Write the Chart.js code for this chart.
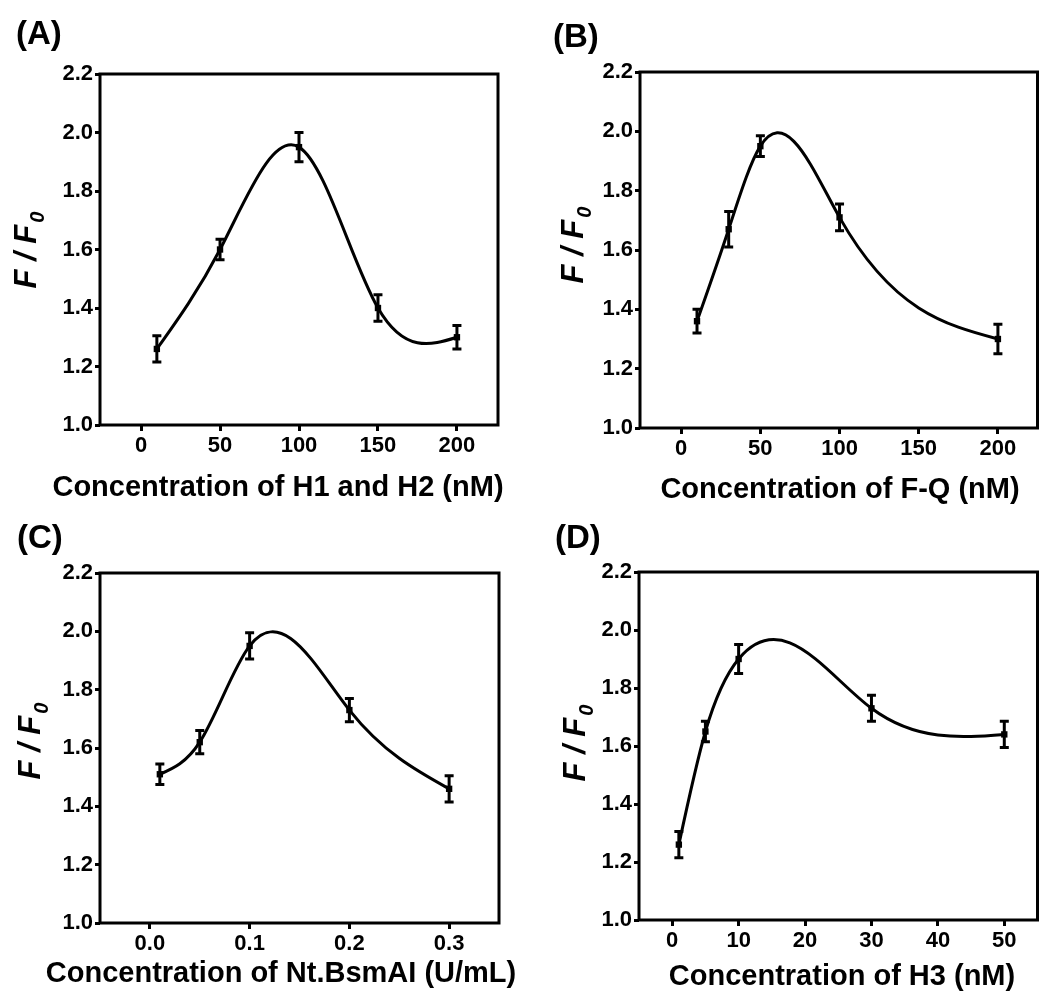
<!DOCTYPE html>
<html><head><meta charset="utf-8">
<script src="https://cdn.jsdelivr.net/npm/chart.js@4.4.0/dist/chart.umd.min.js"></script>
<style>
html,body{margin:0;padding:0;background:#fff;}
body{width:1042px;height:998px;position:relative;overflow:hidden;}
.panel{position:absolute;}
canvas{display:block;}
</style></head><body>
<div class="panel" style="left:0;top:0;"><canvas id="cA" width="520" height="505"></canvas></div>
<div class="panel" style="left:520px;top:0;"><canvas id="cB" width="522" height="505"></canvas></div>
<div class="panel" style="left:0;top:505px;"><canvas id="cC" width="520" height="493"></canvas></div>
<div class="panel" style="left:520px;top:505px;"><canvas id="cD" width="522" height="493"></canvas></div>
<script>
const FONT = "'Liberation Sans', Arial, Helvetica, sans-serif";

// ---- data ----
const xA = [10, 50, 100, 150, 200];
const yA = [1.26, 1.60, 1.95, 1.40, 1.30];
const eA = [0.045, 0.035, 0.05, 0.045, 0.04];

const xB = [10, 30, 50, 100, 200];
const yB = [1.36, 1.67, 1.95, 1.71, 1.30];
const eB = [0.04, 0.06, 0.035, 0.045, 0.05];

const xC = [0.01, 0.05, 0.1, 0.2, 0.3];
const yC = [1.51, 1.62, 1.95, 1.73, 1.46];
const eC = [0.035, 0.04, 0.045, 0.04, 0.045];

const xD = [1, 5, 10, 30, 50];
const yD = [1.26, 1.65, 1.90, 1.73, 1.64];
const eD = [0.045, 0.035, 0.05, 0.045, 0.045];

// ---- tick labels ----
const yTicks = [1.0, 1.2, 1.4, 1.6, 1.8, 2.0, 2.2];
const xTicksA = [0, 50, 100, 150, 200];
const xTicksB = [0, 50, 100, 150, 200];
const xTicksC = [0.0, 0.1, 0.2, 0.3];
const xTicksD = [0, 10, 20, 30, 40, 50];

// ---- texts ----
const panelLabels = ['(A)', '(B)', '(C)', '(D)'];
const xTitles = ['Concentration of H1 and H2 (nM)', 'Concentration of F-Q (nM)',
                 'Concentration of Nt.BsmAI (U/mL)', 'Concentration of H3 (nM)'];
const yTitleMain = 'F / F';
const yTitleSub = '0';

// natural cubic spline control points (Origin-style spline connection)
const naturalSpline = {
  id: 'naturalSpline',
  beforeDatasetDraw(chart, args) {
    const meta = args.meta;
    const line = meta.dataset;
    if (!line) return;
    line.updateControlPoints(chart.chartArea, meta.iScale.axis);
    const pts = meta.data;
    const n = pts.length;
    if (n < 3) return;
    const X = pts.map(p => p.x), Y = pts.map(p => p.y);
    const h = [];
    for (let i = 0; i < n - 1; i++) h.push(X[i + 1] - X[i]);
    const a = new Array(n).fill(0), b = new Array(n).fill(0), c = new Array(n).fill(0), d = new Array(n).fill(0);
    b[0] = 1; b[n - 1] = 1;
    for (let i = 1; i < n - 1; i++) {
      a[i] = h[i - 1]; b[i] = 2 * (h[i - 1] + h[i]); c[i] = h[i];
      d[i] = 6 * ((Y[i + 1] - Y[i]) / h[i] - (Y[i] - Y[i - 1]) / h[i - 1]);
    }
    const cp = new Array(n).fill(0), dp = new Array(n).fill(0);
    cp[0] = c[0] / b[0]; dp[0] = d[0] / b[0];
    for (let i = 1; i < n; i++) {
      const m = b[i] - a[i] * cp[i - 1];
      cp[i] = c[i] / m; dp[i] = (d[i] - a[i] * dp[i - 1]) / m;
    }
    const M = new Array(n).fill(0);
    M[n - 1] = dp[n - 1];
    for (let i = n - 2; i >= 0; i--) M[i] = dp[i] - cp[i] * M[i + 1];
    const s = [];
    for (let i = 0; i < n - 1; i++) s.push((Y[i + 1] - Y[i]) / h[i] - h[i] * (2 * M[i] + M[i + 1]) / 6);
    s.push((Y[n - 1] - Y[n - 2]) / h[n - 2] + h[n - 2] * (M[n - 2] + 2 * M[n - 1]) / 6);
    for (let i = 0; i < n; i++) {
      const p = pts[i];
      if (i < n - 1) { p.cp2x = X[i] + h[i] / 3; p.cp2y = Y[i] + s[i] * h[i] / 3; }
      if (i > 0) { p.cp1x = X[i] - h[i - 1] / 3; p.cp1y = Y[i] - s[i] * h[i - 1] / 3; }
    }
  }
};

const errorBars = {
  id: 'errorBars',
  afterDatasetsDraw(chart) {
    const ds = chart.data.datasets[0];
    const errs = ds.errors;
    const xs = chart.scales.x, ys = chart.scales.y;
    const ctx = chart.ctx;
    ctx.save();
    ctx.strokeStyle = '#000'; ctx.lineWidth = 3; ctx.lineCap = 'butt';
    ds.data.forEach((pt, i) => {
      const px = xs.getPixelForValue(pt.x);
      const t = ys.getPixelForValue(pt.y + errs[i]);
      const bt = ys.getPixelForValue(pt.y - errs[i]);
      ctx.beginPath();
      ctx.moveTo(px, t); ctx.lineTo(px, bt);
      ctx.moveTo(px - 4.5, t); ctx.lineTo(px + 4.5, t);
      ctx.moveTo(px - 4.5, bt); ctx.lineTo(px + 4.5, bt);
      ctx.stroke();
    });
    ctx.restore();
  }
};

const frameText = {
  id: 'frameText',
  afterDatasetsDraw(chart) {
    const a = chart.chartArea, ctx = chart.ctx;
    ctx.save();
    ctx.strokeStyle = '#000'; ctx.lineWidth = 3;
    ctx.strokeRect(a.left, a.top, a.right - a.left, a.bottom - a.top);
    ctx.restore();
  },
  afterDraw(chart, args, o) {
    const ctx = chart.ctx;
    ctx.save();
    ctx.fillStyle = '#000';
    ctx.textBaseline = 'alphabetic';
    // panel label
    ctx.textAlign = 'left';
    ctx.font = `bold 33px ${FONT}`;
    ctx.fillText(o.label, o.labelX, o.labelY);
    // x title
    ctx.textAlign = 'center';
    ctx.font = `bold 29px ${FONT}`;
    ctx.fillText(o.xTitle, o.xTitleX, o.xTitleY);
    // y title
    ctx.translate(o.yTitleX, o.yTitleCY);
    ctx.rotate(-Math.PI / 2);
    ctx.textAlign = 'left';
    ctx.font = `italic bold 31px ${FONT}`;
    const wMain = ctx.measureText(yTitleMain).width;
    ctx.font = `italic bold 20px ${FONT}`;
    const wSub = ctx.measureText(yTitleSub).width;
    const total = wMain + 2 + wSub;
    ctx.font = `italic bold 31px ${FONT}`;
    ctx.fillText(yTitleMain, -total / 2, 0);
    ctx.font = `italic bold 20px ${FONT}`;
    ctx.fillText(yTitleSub, -total / 2 + wMain + 2, 8);
    ctx.restore();
  }
};

function makeChart(id, W, H, area, xs, ys, es, xMin, xMax, xTicks, xDec, texts) {
  new Chart(document.getElementById(id), {
    type: 'line',
    data: {
      datasets: [{
        data: xs.map((x, i) => ({ x: x, y: ys[i] })),
        errors: es,
        borderColor: '#000', borderWidth: 3, tension: 0.4, fill: false,
        pointStyle: 'rect', pointRadius: 4.5, pointBackgroundColor: '#000',
        pointBorderColor: '#000', pointBorderWidth: 0, clip: false
      }]
    },
    options: {
      responsive: false, animation: false, devicePixelRatio: 1,
      events: [],
      layout: { padding: { left: 0, top: area.top, right: W - area.right, bottom: 0 } },
      plugins: { legend: { display: false }, tooltip: { enabled: false }, frameText: texts },
      scales: {
        x: {
          type: 'linear', min: xMin, max: xMax,
          afterFit(s) { s.height = H - area.bottom; },
          afterBuildTicks(s) { s.ticks = xTicks.map(v => ({ value: v })); },
          ticks: { callback: v => Number(v).toFixed(xDec), font: { family: FONT, size: 22, weight: 'bold' },
                   color: '#000', padding: 2, maxRotation: 0, autoSkip: false },
          grid: { drawOnChartArea: false, drawTicks: true, tickLength: 6, tickWidth: 3, tickColor: '#000' },
          border: { display: false }
        },
        y: {
          type: 'linear', min: 1.0, max: 2.2,
          afterFit(s) { s.width = area.left; },
          afterBuildTicks(s) { s.ticks = yTicks.map(v => ({ value: v })); },
          ticks: { callback: v => Number(v).toFixed(1), font: { family: FONT, size: 22, weight: 'bold' },
                   color: '#000', padding: 2, autoSkip: false },
          grid: { drawOnChartArea: false, drawTicks: true, tickLength: 5, tickWidth: 3, tickColor: '#000' },
          border: { display: false }
        }
      }
    },
    plugins: [naturalSpline, errorBars, frameText]
  });
}

makeChart('cA', 520, 505, { left: 100, top: 74, right: 498, bottom: 425 }, xA, yA, eA, -26, 226, xTicksA, 0,
  { label: panelLabels[0], labelX: 16, labelY: 44, xTitle: xTitles[0], xTitleX: 278, xTitleY: 496, yTitleX: 36, yTitleCY: 250 });
makeChart('cB', 522, 505, { left: 120, top: 72, right: 519, bottom: 428 }, xB, yB, eB, -26, 225, xTicksB, 0,
  { label: panelLabels[1], labelX: 33, labelY: 47, xTitle: xTitles[1], xTitleX: 320, xTitleY: 498, yTitleX: 63, yTitleCY: 245 });
makeChart('cC', 520, 493, { left: 100, top: 68, right: 499, bottom: 418 }, xC, yC, eC, -0.05, 0.35, xTicksC, 1,
  { label: panelLabels[2], labelX: 17, labelY: 43, xTitle: xTitles[2], xTitleX: 281, xTitleY: 477, yTitleX: 40, yTitleCY: 236 });
makeChart('cD', 522, 493, { left: 119, top: 67, right: 519, bottom: 415 }, xD, yD, eD, -5, 55, xTicksD, 0,
  { label: panelLabels[3], labelX: 35, labelY: 43, xTitle: xTitles[3], xTitleX: 322, xTitleY: 480, yTitleX: 65, yTitleCY: 238 });
</script>
</body></html>
